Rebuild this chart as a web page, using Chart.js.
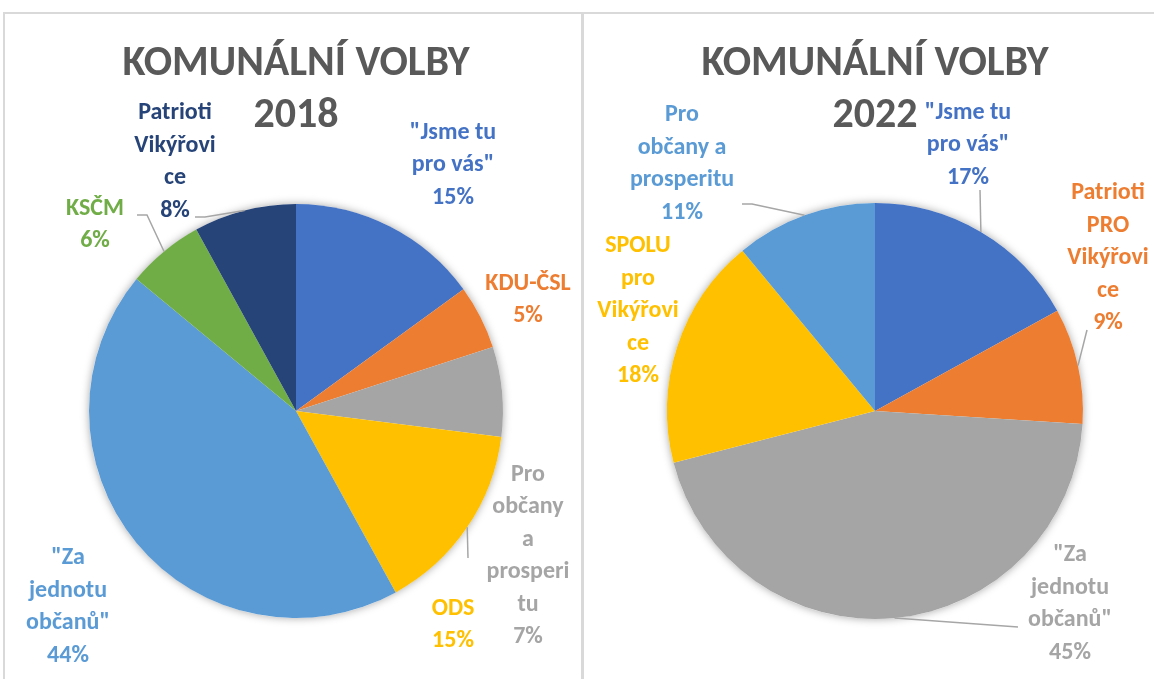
<!DOCTYPE html>
<html>
<head>
<meta charset="utf-8">
<script src="https://cdn.jsdelivr.net/npm/chart.js@4.4.1/dist/chart.umd.min.js"></script>
<style>
  html, body { margin: 0; padding: 0; background: #fff; }
  body { width: 1154px; height: 679px; position: relative; overflow: hidden; }
  canvas { position: absolute; top: 0; }
  .line { position: absolute; background: #d9d9d9; }
</style>
</head>
<body>
<div class="line" style="left:3px; top:12px; width:1151px; height:2px;"></div>
<div class="line" style="left:3px; top:12px; width:2px; height:667px;"></div>
<div class="line" style="left:581px; top:12px; width:3px; height:667px;"></div>
<canvas id="chart2018" width="580" height="679" style="left:0px"></canvas>
<canvas id="chart2022" width="574" height="679" style="left:580px"></canvas>
<script>
const FONT = "Carlito, Calibri, Lato, 'Open Sans', sans-serif";

// 2018
const parties2018 = ['"Jsme tu pro vás"', 'KDU-ČSL', 'Pro občany a prosperitu', 'ODS', '"Za jednotu občanů"', 'KSČM', 'Patrioti Vikýřovice'];
const lines2018 = [['"Jsme tu', 'pro vás"'], ['KDU-ČSL'], ['Pro', 'občany', 'a', 'prosperi', 'tu'], ['ODS'], ['"Za', 'jednotu', 'občanů"'], ['KSČM'], ['Patrioti', 'Vikýřovi', 'ce']];
const values2018 = [15, 5, 7, 15, 44, 6, 8];
const colors2018 = ['#4472C4', '#ED7D31', '#A5A5A5', '#FFC000', '#5B9BD5', '#70AD47', '#264478'];

// 2022
const parties2022 = ['"Jsme tu pro vás"', 'Patrioti PRO Vikýřovice', '"Za jednotu občanů"', 'SPOLU pro Vikýřovice', 'Pro občany a prosperitu'];
const lines2022 = [['"Jsme tu', 'pro vás"'], ['Patrioti', 'PRO', 'Vikýřovi', 'ce'], ['"Za', 'jednotu', 'občanů"'], ['SPOLU', 'pro', 'Vikýřovi', 'ce'], ['Pro', 'občany a', 'prosperitu']];
const values2022 = [17, 9, 45, 18, 11];
const colors2022 = ['#4472C4', '#ED7D31', '#A5A5A5', '#FFC000', '#5B9BD5'];

// label placement (offset of the label block centre from the pie centre) and leader lines
const place2018 = [
  { at: [157, -246] },
  { at: [232, -111] },
  { at: [232, 145] },
  { at: [157, 214], leader: [[172, 147]] },
  { at: [-228, 196] },
  { at: [-201, -186], leader: [[-159, -196], [-149, -196]] },
  { at: [-121, -249], leader: [[-101, -194], [-91, -194]] }
];
const place2022 = [
  { at: [93, -266], leader: [[105, -221]] },
  { at: [233, -153], leader: [[212, -81]] },
  { at: [195, 193], leader: [[143, 216]] },
  { at: [-237, -100] },
  { at: [-193, -247], leader: [[-133, -207], [-123, -207]] }
];

const sliceLabels = {
  id: 'sliceLabels',
  beforeDatasetsDraw(chart) {
    const arc = chart.getDatasetMeta(0).data[0];
    if (!arc) return;
    const ctx = chart.ctx;
    ctx.save();
    ctx.shadowColor = 'rgba(0,0,0,0.35)';
    ctx.shadowBlur = 9;
    ctx.beginPath();
    ctx.arc(arc.x, arc.y, arc.outerRadius, 0, Math.PI * 2);
    ctx.fillStyle = '#fff';
    ctx.fill();
    ctx.restore();
  },
  afterDatasetsDraw(chart, args, opts) {
    const ctx = chart.ctx;
    const ds = chart.data.datasets[0];
    const total = ds.data.reduce((a, b) => a + b, 0);
    chart.getDatasetMeta(0).data.forEach((arc, i) => {
      const { x, y, outerRadius, startAngle, endAngle } = arc.getProps(['x', 'y', 'outerRadius', 'startAngle', 'endAngle'], true);
      const mid = (startAngle + endAngle) / 2;
      const ex = x + Math.cos(mid) * outerRadius;
      const ey = y + Math.sin(mid) * outerRadius;
      const p = opts.place[i];
      if (p.leader) {
        ctx.save();
        ctx.strokeStyle = '#a6a6a6';
        ctx.lineWidth = 1.5;
        ctx.beginPath();
        p.leader.forEach((pt, k) => {
          if (k === 0) ctx.moveTo(x + pt[0], y + pt[1]);
          else ctx.lineTo(x + pt[0], y + pt[1]);
        });
        ctx.lineTo(ex, ey);
        ctx.stroke();
        ctx.restore();
      }
      const txt = opts.lines[i].concat([Math.round(ds.data[i] / total * 100) + '%']);
      const lh = 32.5;
      const cx = x + p.at[0];
      const cy = y + p.at[1] - (txt.length - 1) * lh / 2;
      ctx.save();
      ctx.font = 'bold 24px ' + FONT;
      ctx.fillStyle = ds.backgroundColor[i];
      ctx.textAlign = 'center';
      ctx.textBaseline = 'middle';
      txt.forEach((t, k) => ctx.fillText(t, cx, cy + k * lh));
      ctx.restore();
    });
  }
};

const makeChart = (id, year, parties, values, colors, lines, place, pad, titleBottom) => {
  return new Chart(document.getElementById(id), {
    type: 'pie',
    data: {
      labels: parties,
      datasets: [{ data: values, backgroundColor: colors, borderWidth: 0 }]
    },
    options: {
      responsive: false,
      animation: false,
      layout: { padding: pad },
      plugins: {
        legend: { display: false },
        tooltip: { enabled: false },
        title: {
          display: true,
          text: ['KOMUNÁLNÍ VOLBY', year],
          color: '#595959',
          font: { family: FONT, size: 42, weight: 'bold', lineHeight: 52 / 42 },
          padding: { top: 38, bottom: titleBottom }
        },
        sliceLabels: { lines: lines, place: place }
      }
    },
    plugins: [sliceLabels]
  });
};

makeChart('chart2018', '2018', parties2018, values2018, colors2018, lines2018, place2018,
  { left: 89, right: 77, top: 0, bottom: 61 }, 62);
makeChart('chart2022', '2022', parties2022, values2022, colors2022, lines2022, place2022,
  { left: 87, right: 71, top: 0, bottom: 60 }, 61);
</script>
</body>
</html>
